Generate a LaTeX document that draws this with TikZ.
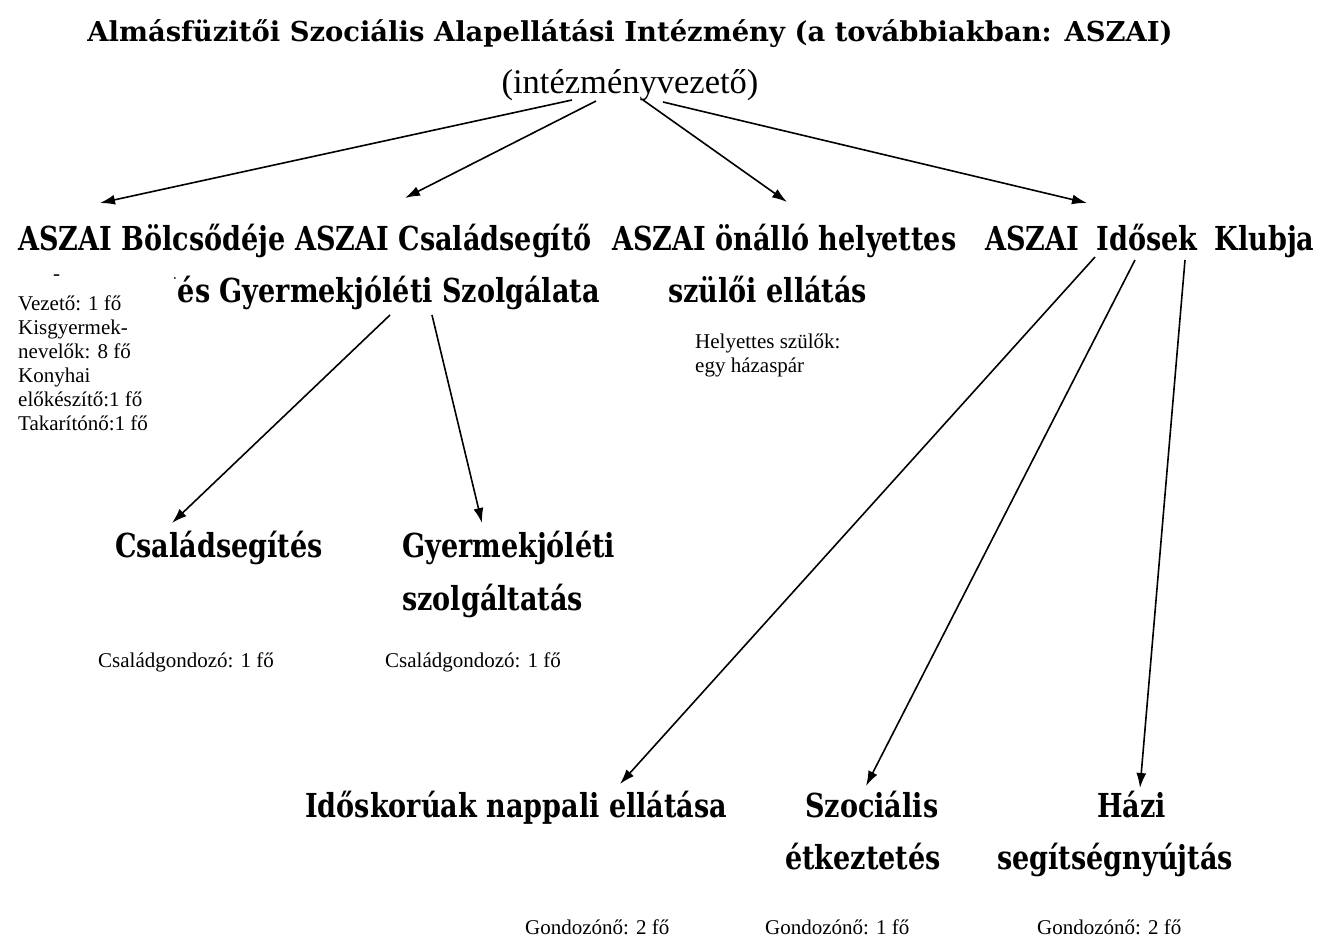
\documentclass[tikz,border=0pt]{standalone}
\usepackage{fontspec}
\setmainfont{Liberation Serif}
\newfontfamily\hb[FakeStretch=0.82]{DejaVu Serif}
\newfontfamily\hbt{DejaVu Serif}
\usetikzlibrary{arrows.meta}
\begin{document}
\begin{tikzpicture}[x=1pt,y=-1pt,
  bigt/.style={inner sep=0pt,anchor=base west,font=\hb\bfseries\fontsize{33}{40}\selectfont},
  titlet/.style={inner sep=0pt,anchor=base,font=\hbt\bfseries\fontsize{27.4}{32}\selectfont},
  smallt/.style={inner sep=0pt,anchor=base west,font=\fontsize{21}{24}\selectfont},
  arr/.style={line width=1.6pt,-{Latex[length=15pt,width=10pt]}}]
\useasboundingbox[fill=white] (0,0) rectangle (1323,938);
\node[titlet] (title) at (630,41) {Almásfüzitői Szociális Alapellátási Intézmény (a továbbiakban: ASZAI)};
\node[inner sep=0pt,anchor=base,font=\fontsize{34.5}{40}\selectfont] (vez) at (630,93) {(intézményvezető)};
% row 2
\node[bigt] (bol) at (18,250) {ASZAI Bölcsődéje};
\node[bigt] (csa) at (295,250) {ASZAI Családsegítő};
\node[bigt] (csa2) at (172,302) {\raisebox{14pt}{\fontsize{14}{14}\selectfont˙}és Gyermekjóléti Szolgálata};
\node[bigt] (hely) at (612,250) {ASZAI önálló helyettes};
\node[bigt] (hely2) at (668,302) {szülői ellátás};
\node[bigt] (ido) at (985,250) {ASZAI\hspace{8pt} Idősek\hspace{8pt} Klubja};
\node[smallt] (dash) at (53,280) {-};
% small texts
\node[smallt,align=left,anchor=north west] (bolst) at (18,296) {Vezető: 1 fő\\Kisgyermek-\\nevelők: 8 fő\\Konyhai\\előkészítő:1 fő\\Takarítónő:1 fő};
\node[smallt,align=left,anchor=north west] (helyst) at (695,334) {Helyettes szülők:\\egy házaspár};
% level 3
\node[bigt] (cs) at (115,557) {Családsegítés};
\node[bigt] (gy) at (402,557) {Gyermekjóléti};
\node[bigt] (gy2) at (402,610) {szolgáltatás};
\node[smallt] (css) at (98,667) {Családgondozó: 1 fő};
\node[smallt] (gys) at (385,667) {Családgondozó: 1 fő};
% level 4
\node[bigt] (nap) at (305,817) {Időskorúak nappali ellátása};
\node[bigt] (szo) at (805,817) {Szociális};
\node[bigt] (szo2) at (785,869) {étkeztetés};
\node[bigt] (haz) at (1097,817) {Házi};
\node[bigt] (haz2) at (997,869) {segítségnyújtás};
\node[smallt] (naps) at (525,934) {Gondozónő: 2 fő};
\node[smallt] (szos) at (765,934) {Gondozónő: 1 fő};
\node[smallt] (hazs) at (1037,934) {Gondozónő: 2 fő};
% connector coordinates
\coordinate (v1) at (572,100);
\coordinate (v2) at (596,101);
\coordinate (v3) at (643,100);
\coordinate (v4) at (663,102);
\coordinate (t1) at (100,203);
\coordinate (t2) at (405,198);
\coordinate (t3) at (787,202);
\coordinate (t4) at (1087,203);
\draw[arr] (v1) -- (t1);
\draw[arr] (v2) -- (t2);
\draw[arr] (v3) -- (t3);
\draw[arr] (v4) -- (t4);
\coordinate (c1) at (390,315);
\coordinate (c2) at (432,315);
\coordinate (e1) at (172,523);
\coordinate (e2) at (482,523);
\draw[arr] (c1) -- (e1);
\draw[arr] (c2) -- (e2);
\coordinate (i1) at (1095,257);
\coordinate (i2) at (1135,260);
\coordinate (i3) at (1185,260);
\coordinate (f1) at (620,784);
\coordinate (f2) at (866,786);
\coordinate (f3) at (1140,788);
\draw[arr] (i1) -- (f1);
\draw[arr] (i2) -- (f2);
\draw[arr] (i3) -- (f3);
\end{tikzpicture}
\end{document}
